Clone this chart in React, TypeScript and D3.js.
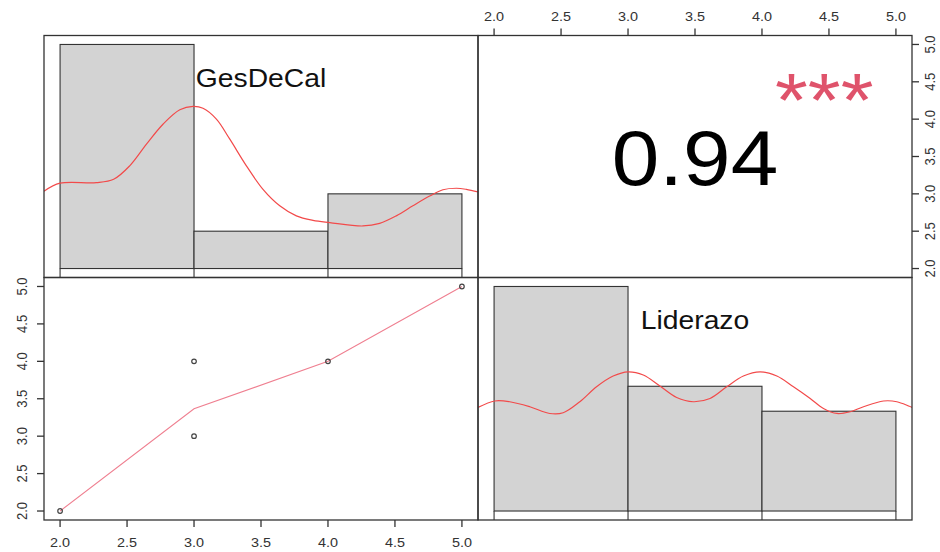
import React from 'react';
import * as d3 from 'd3';

// ---------- data ----------
const variables = ['GesDeCal', 'Liderazo'];
const breaks = [2, 3, 4, 5];
const gesDeCalCounts = [6, 1, 2];
const liderazoCounts = [9, 5, 4];
const gesDeCalPoints = [2, 3, 3, 4, 5];
const liderazoPoints = [2, 4, 3, 4, 5];
const smoothX = [2, 3, 4, 5];
const smoothY = [2, 3.365, 4, 5];
const gesDensX = [1.88, 2.0, 2.27, 2.4, 2.52, 2.645, 2.77, 2.894, 2.993, 3.067, 3.167, 3.266, 3.391, 3.515, 3.64, 3.764, 3.888, 4.013, 4.261, 4.386, 4.51, 4.634, 4.759, 4.858, 4.958, 5.033, 5.12];
const gesDensY = [2.07, 2.285, 2.3, 2.39, 2.75, 3.33, 3.87, 4.25, 4.34, 4.29, 4.0, 3.47, 2.75, 2.12, 1.68, 1.41, 1.29, 1.23, 1.14, 1.21, 1.41, 1.68, 1.94, 2.11, 2.15, 2.12, 2.05];
const lidDensX = [1.88, 2.005, 2.117, 2.267, 2.416, 2.516, 2.64, 2.765, 2.889, 3.0, 3.114, 3.238, 3.363, 3.487, 3.612, 3.737, 3.861, 3.986, 4.111, 4.235, 4.36, 4.459, 4.559, 4.659, 4.758, 4.907, 5.007, 5.12];
const lidDensY = [4.15, 4.41, 4.38, 4.18, 3.91, 3.94, 4.38, 4.98, 5.41, 5.58, 5.45, 5.01, 4.55, 4.38, 4.51, 4.98, 5.41, 5.58, 5.41, 4.98, 4.51, 4.11, 3.91, 3.98, 4.18, 4.41, 4.38, 4.15];
const axisTicks = [2.0, 2.5, 3.0, 3.5, 4.0, 4.5, 5.0];
const corrValue = '0.94';
const corrStars = '***';

// ---------- layout ----------
const W = 940;
const H = 552;
const cols = [44, 478, 912];
const rows = [35.5, 277.5, 520];
const SX = 1.11;
const FONT = "'Liberation Sans', Arial, Helvetica, sans-serif";
const INK = '#333333';
const DOMAIN: [number, number] = [1.88, 5.12];

const xScale = (c: number) => d3.scaleLinear().domain(DOMAIN).range([cols[c], cols[c + 1]]);
const yScale = (r: number) => d3.scaleLinear().domain(DOMAIN).range([rows[r + 1], rows[r]]);
const histY = (r: number, counts: number[]) => {
  const m = d3.max(counts) as number;
  return d3.scaleLinear().domain([-0.04 * m, 1.04 * m]).range([rows[r + 1], rows[r]]);
};

function T(props: { x: number; y: number; size: number; anchor?: string; rot?: boolean; fill?: string; children: React.ReactNode }) {
  const { x, y, size, anchor = 'middle', rot = false, fill = INK, children } = props;
  return (
    <text
      transform={`translate(${x},${y}) scale(${SX},1)${rot ? ' rotate(-90)' : ''}`}
      textAnchor={anchor}
      fontSize={size}
      fontFamily={FONT}
      fill={fill}
    >
      {children}
    </text>
  );
}

function Hist({ r, c, counts, dx, dy, label, id }: { r: number; c: number; counts: number[]; dx: number[]; dy: number[]; label: string; id: string }) {
  const x = xScale(c);
  const y = histY(r, counts);
  const line = d3.line<number>().x((_, i) => x(dx[i])).y((_, i) => y(dy[i])).curve(d3.curveCatmullRom.alpha(0.5));
  return (
    <g>
      <clipPath id={id}>
        <rect x={cols[c]} y={rows[r]} width={cols[c + 1] - cols[c]} height={rows[r + 1] - rows[r]} />
      </clipPath>
      {counts.map((n, i) => (
        <rect key={i} x={x(breaks[i])} y={y(n)} width={x(breaks[i + 1]) - x(breaks[i])} height={y(0) - y(n)} fill="#d3d3d3" stroke={INK} strokeWidth={1.1} />
      ))}
      {breaks.map((b, i) => (
        <line key={'t' + i} x1={x(b)} x2={x(b)} y1={y(0)} y2={rows[r + 1]} stroke={INK} strokeWidth={1.1} />
      ))}
      <path d={line(dx) as string} fill="none" stroke="#f24a4a" strokeWidth={1.2} clipPath={`url(#${id})`} />
      <T x={(cols[c] + cols[c + 1]) / 2} y={rows[r] + 51.5} size={25.5} fill="#111">{label}</T>
    </g>
  );
}

export default function App() {
  const x0 = xScale(0);
  const x1 = xScale(1);
  const y0 = yScale(0);
  const y1 = yScale(1);
  const smooth = d3.line<number>().x((_, i) => x0(smoothX[i])).y((_, i) => y1(smoothY[i]));

  return (
    <svg width={W} height={H} style={{ position: 'absolute', left: 0, top: 0, background: '#fff' }}>
      <rect x={0} y={0} width={W} height={H} fill="#fff" />

      <Hist r={0} c={0} counts={gesDeCalCounts} dx={gesDensX} dy={gesDensY} label={variables[0]} id="clipA" />
      <Hist r={1} c={1} counts={liderazoCounts} dx={lidDensX} dy={lidDensY} label={variables[1]} id="clipB" />

      {/* scatter panel */}
      <path d={smooth(smoothX) as string} fill="none" stroke="#ef7f90" strokeWidth={1.1} />
      {gesDeCalPoints.map((v, i) => (
        <circle key={i} cx={x0(v)} cy={y1(liderazoPoints[i])} r={2.3} fill="none" stroke="#444" strokeWidth={1.2} />
      ))}

      {/* correlation panel */}
      <T x={(cols[1] + cols[2]) / 2} y={rows[0] + 149.5} size={77} fill="#000">{corrValue}</T>
      <T x={775} y={126} size={76} anchor="start" fill="#df536b">{corrStars}</T>

      {/* panel boxes */}
      {[0, 1].map((r) =>
        [0, 1].map((c) => (
          <rect key={`${r}-${c}`} x={cols[c]} y={rows[r]} width={cols[c + 1] - cols[c]} height={rows[r + 1] - rows[r]} fill="none" stroke={INK} strokeWidth={1.3} />
        ))
      )}

      {/* top axis (col 1) */}
      {axisTicks.map((t) => (
        <g key={'top' + t}>
          <line x1={x1(t)} x2={x1(t)} y1={rows[0]} y2={rows[0] - 7} stroke={INK} strokeWidth={1.3} />
          <T x={x1(t)} y={21} size={13}>{t.toFixed(1)}</T>
        </g>
      ))}
      {/* bottom axis (col 0) */}
      {axisTicks.map((t) => (
        <g key={'bot' + t}>
          <line x1={x0(t)} x2={x0(t)} y1={rows[2]} y2={rows[2] + 7} stroke={INK} strokeWidth={1.3} />
          <T x={x0(t)} y={547} size={13}>{t.toFixed(1)}</T>
        </g>
      ))}
      {/* left axis (row 1) */}
      {axisTicks.map((t) => (
        <g key={'left' + t}>
          <line x1={cols[0]} x2={cols[0] - 7} y1={y1(t)} y2={y1(t)} stroke={INK} strokeWidth={1.3} />
          <T x={27} y={y1(t)} size={13} rot>{t.toFixed(1)}</T>
        </g>
      ))}
      {/* right axis (row 0) */}
      {axisTicks.map((t) => (
        <g key={'right' + t}>
          <line x1={cols[2]} x2={cols[2] + 7} y1={y0(t)} y2={y0(t)} stroke={INK} strokeWidth={1.3} />
          <T x={935} y={y0(t)} size={13} rot>{t.toFixed(1)}</T>
        </g>
      ))}
    </svg>
  );
}
